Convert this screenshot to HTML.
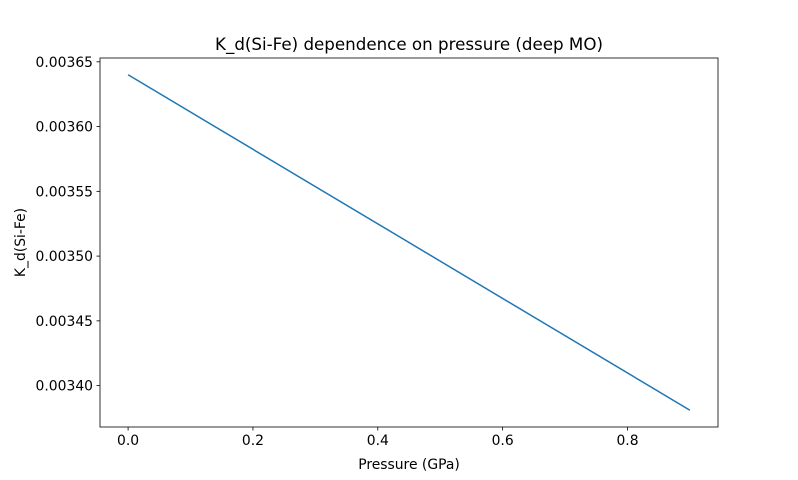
<!DOCTYPE html>
<html><head><meta charset="utf-8"><style>body{margin:0;background:#fff}svg{display:block;font-family:"DejaVu Sans","Liberation Sans",sans-serif}</style></head>
<body>
<svg id="c" width="798" height="480"></svg>
<script>
const pressures=[0.0,0.9];
const kd=[0.003640,0.003381];
const xTicks=[0.0,0.2,0.4,0.6,0.8];
const xTickLabels=["0.0","0.2","0.4","0.6","0.8"];
const yTicks=[0.00340,0.00345,0.00350,0.00355,0.00360,0.00365];
const yTickLabels=["0.00340","0.00345","0.00350","0.00355","0.00360","0.00365"];
const L=100,R=718,T=58,B=427;
const xmin=Math.min(...pressures),xmax=Math.max(...pressures),xr=xmax-xmin;
const ymin=Math.min(...kd),ymax=Math.max(...kd),yr=ymax-ymin;
const x0=xmin-0.05*xr,x1=xmax+0.05*xr,y0=ymin-0.05*yr,y1=ymax+0.05*yr;
const sx=v=>L+(v-x0)/(x1-x0)*(R-L);
const sy=v=>B-(v-y0)/(y1-y0)*(B-T);
const svg=document.getElementById('c');const NS='http://www.w3.org/2000/svg';
function mk(t,a,p){const e=document.createElementNS(NS,t);for(const k in a)e.setAttribute(k,a[k]);(p||svg).appendChild(e);return e;}
let pts=pressures.map((p,i)=>sx(p)+','+sy(kd[i])).join(' ');
const line=mk('polyline',{points:pts,fill:'none',stroke:'#1f77b4','stroke-width':1.5});


const frame=mk('rect',{x:L,y:T,width:R-L,height:B-T,fill:'none',stroke:'#000','stroke-width':0.8});


xTicks.forEach((v,i)=>{const X=sx(v);mk('line',{x1:X,x2:X,y1:B,y2:B+3.5,stroke:'#000','stroke-width':0.8});
const t=mk('text',{x:X,y:B+18,'text-anchor':'middle','font-size':13.9,fill:'#000'});t.textContent=xTickLabels[i];

});
yTicks.forEach((v,i)=>{const Y=sy(v);mk('line',{x1:L-3.5,x2:L,y1:Y,y2:Y,stroke:'#000','stroke-width':0.8});
const t=mk('text',{x:L-7,y:Y+5,'text-anchor':'end','font-size':13.9,fill:'#000'});t.textContent=yTickLabels[i];

});
const tt=mk('text',{x:(L+R)/2,y:T-8,'text-anchor':'middle','font-size':16.7});tt.textContent='K_d(Si-Fe) dependence on pressure (deep MO)';


const xl=mk('text',{x:(L+R)/2,y:469,'text-anchor':'middle','font-size':13.9});xl.textContent='Pressure (GPa)';


const yl=mk('text',{x:25,y:(T+B)/2,'text-anchor':'middle','font-size':13.9,transform:'rotate(-90 25 '+((T+B)/2)+')'});yl.textContent='K_d(Si-Fe)';


</script>
</body></html>
